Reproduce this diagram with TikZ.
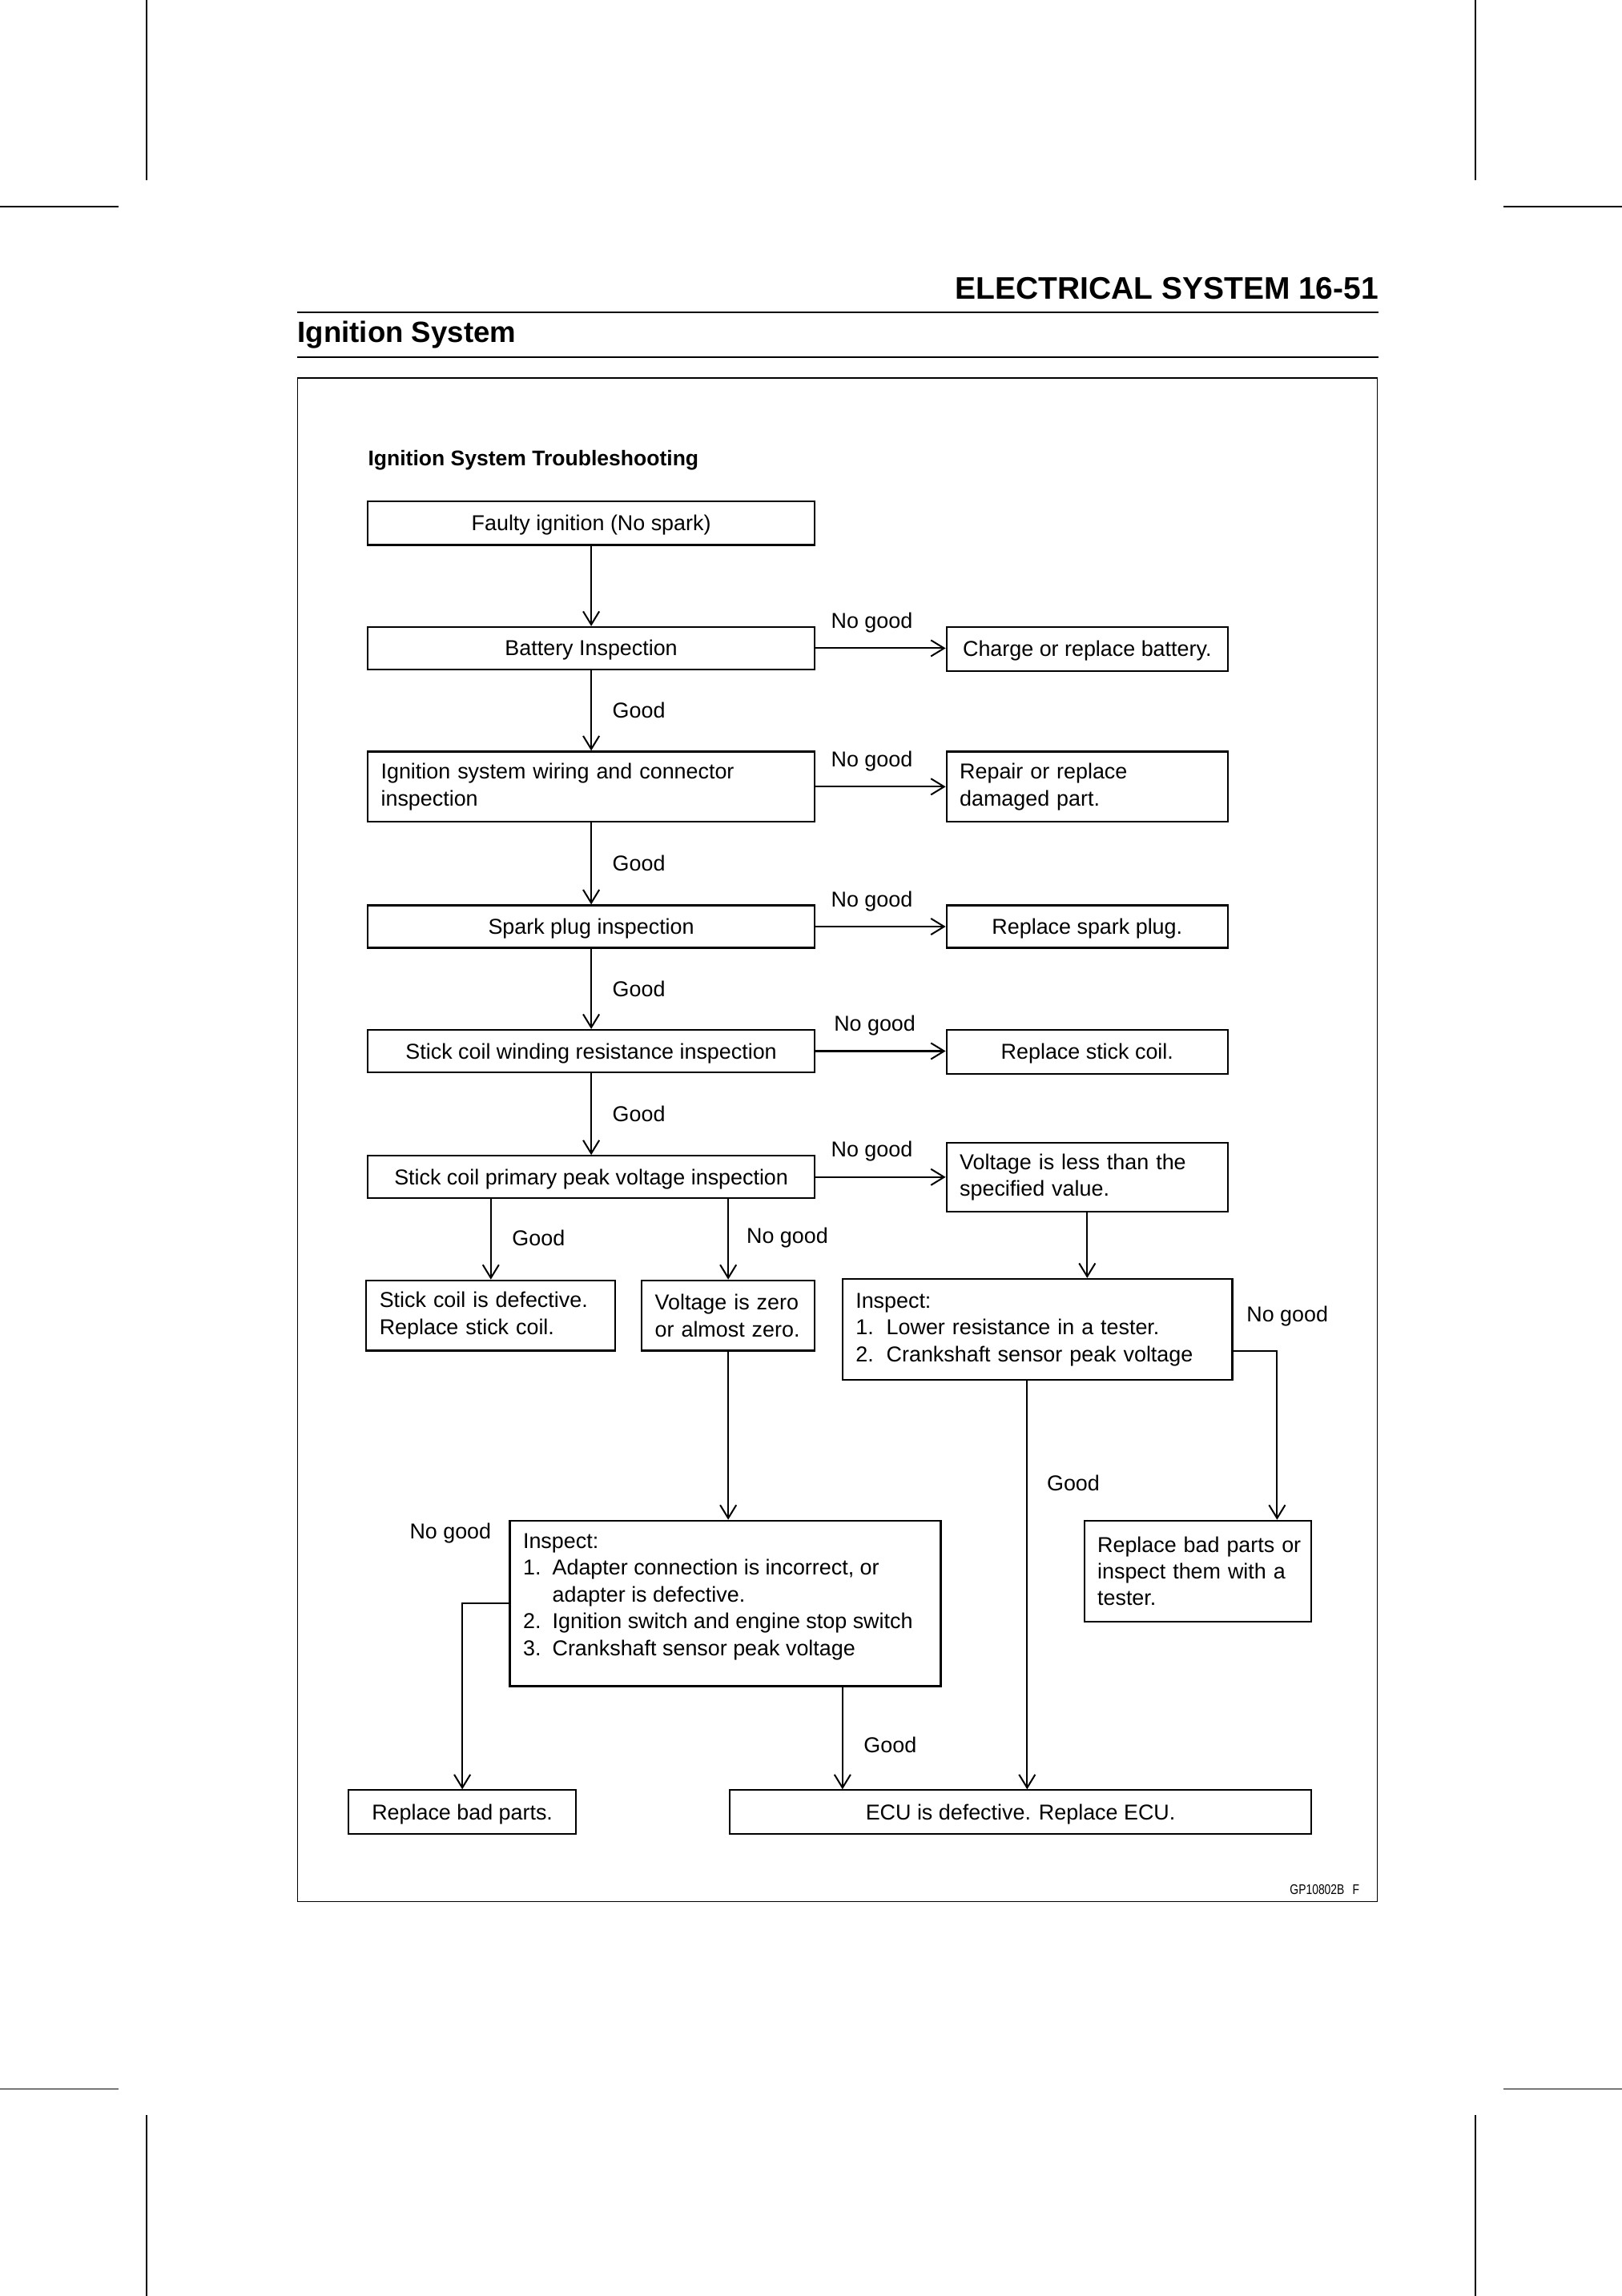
\documentclass[tikz,border=0pt]{standalone}
\usepackage{fontspec}
\usepackage{graphicx}
\setmainfont{Liberation Sans}
\usetikzlibrary{arrows.meta}

\begin{document}
\begin{tikzpicture}[x=1pt,y=-1pt,
        box/.style={draw, line width=1.2pt, inner sep=0pt, font=\fontsize{14.7}{18.3}\selectfont},
        cbox/.style={box, text height=13.4pt, text depth=3pt},
        lbox/.style={box, align=left, inner xsep=9pt},
        lbl/.style={inner sep=0pt, font=\fontsize{14.7}{18.3}\selectfont},
        flow/.style={line width=1.1pt, -{Straight Barb[length=9pt,width=11pt]}},
        crop/.style={line width=0.7pt}]
        \useasboundingbox (0,0) rectangle (1107,1567.3);
        \fill[white] (0,0) rectangle (1107,1567.3);

        \draw[crop] (100,0) -- (100,123);
        \draw[crop] (1007,0) -- (1007,123);
        \draw[crop] (0,141) -- (81,141);
        \draw[crop] (1026,141) -- (1107,141);
        \draw[crop] (0,1426) -- (81,1426);
        \draw[crop] (1026,1426) -- (1107,1426);
        \draw[crop] (100,1444) -- (100,1567.3);
        \draw[crop] (1007,1444) -- (1007,1567.3);

        \node[anchor=base east, inner sep=0pt, font=\bfseries\fontsize{21.3}{25}\selectfont] (head) at (941,204) {ELECTRICAL SYSTEM 16-51};
        \draw[line width=1pt] (203,213) -- (941,213);
        \node[anchor=base west, inner sep=0pt, font=\bfseries\fontsize{20}{24}\selectfont] (sect) at (203,233.5) {Ignition System};
        \draw[line width=1.2pt] (203,244) -- (941,244);
        \draw[line width=0.9pt] (203,258) rectangle (940,1298);
        \node[anchor=base west, inner sep=0pt, font=\bfseries\fontsize{14.5}{18}\selectfont] (title) at (251,318) {Ignition System Troubleshooting};

        \node[cbox, minimum width=305pt, minimum height=30pt] (faulty) at (403.5,357) {Faulty ignition (No spark)};
        \node[cbox, minimum width=305pt, minimum height=29pt] (batt) at (403.5,442.5) {Battery Inspection};
        \node[cbox, minimum width=192pt, minimum height=30pt] (charge) at (742,443) {Charge or replace battery.};
        \node[lbox, text width=287pt, minimum height=48pt] (wiring) at (403.5,537) {Ignition system wiring and connector\\inspection};
        \node[lbox, text width=174pt, minimum height=48pt] (repair) at (742,537) {Repair or replace\\damaged part.};
        \node[cbox, minimum width=305pt, minimum height=29pt] (spark) at (403.5,632.5) {Spark plug inspection};
        \node[cbox, minimum width=192pt, minimum height=29pt] (plug) at (742,632.5) {Replace spark plug.};
        \node[cbox, minimum width=305pt, minimum height=29pt] (wind) at (403.5,717.5) {Stick coil winding resistance inspection};
        \node[cbox, minimum width=192pt, minimum height=30pt] (rcoil) at (742,718) {Replace stick coil.};
        \node[cbox, minimum width=305pt, minimum height=29pt] (prim) at (403.5,803.5) {Stick coil primary peak voltage inspection};
        \node[lbox, text width=174pt, minimum height=47pt] (vless) at (742,803.5) {Voltage is less than the\\specified value.};
        \node[lbox, text width=152pt, minimum height=48pt] (sdef) at (335,898) {Stick coil is defective.\\Replace stick coil.};
        \node[lbox, text width=100pt, minimum height=48pt] (vzero) at (497,898) {\mbox{Voltage is zero}\\\mbox{or almost zero.}};
        \node[lbox, text width=248pt, minimum height=69pt] (insR) at (708,907.5) {Inspect:\\\makebox[21pt][l]{1.}Lower resistance in a tester.\\\makebox[21pt][l]{2.}Crankshaft sensor peak voltage};
        \node[lbox, text width=137pt, minimum height=69pt] (rpi) at (817.5,1072.5) {\mbox{Replace bad parts or}\\\mbox{inspect them with a}\\tester.};
        \node[box, inner xsep=9pt, inner ysep=6pt] (insL) at (495,1094.5) {\parbox[c][101pt][t]{276pt}{\strut Inspect:\\
                \makebox[20pt][l]{1.}Adapter connection is incorrect, or\\
                \hspace*{20pt}adapter is defective.\\
                \makebox[20pt][l]{2.}Ignition switch and engine stop switch\\
                \makebox[20pt][l]{3.}Crankshaft sensor peak voltage}};
        \node[cbox, minimum width=155pt, minimum height=30pt] (rbp) at (315.5,1237) {Replace bad parts.};
        \node[cbox, minimum width=397pt, minimum height=30pt] (ecu) at (696.5,1237) {ECU is defective. Replace ECU.};
        \node[anchor=base east, inner sep=0pt, font=\fontsize{9.5}{11}\selectfont] (code) at (928,1293) {\scalebox{0.8}[1]{GP10802B\hspace{7pt}F}};

        \draw[flow] (faulty) -- (batt);
        \draw[flow] (batt) -- node[lbl, right=14pt] (g1) {Good} (wiring);
        \draw[flow] (wiring) -- node[lbl, right=14pt] (g2) {Good} (spark);
        \draw[flow] (spark) -- node[lbl, right=14pt] (g3) {Good} (wind);
        \draw[flow] (wind) -- node[lbl, right=14pt] (g4) {Good} (prim);

        \draw[flow] (batt.east) -- node[lbl, above=10pt, xshift=-6pt] (n1) {No good} (batt.east -| charge.west);
        \draw[flow] (wiring.east) -- node[lbl, above=10pt, xshift=-6pt] (n2) {No good} (wiring.east -| repair.west);
        \draw[flow] (spark.east) -- node[lbl, above=10pt, xshift=-6pt] (n3) {No good} (spark.east -| plug.west);
        \draw[flow] (wind.east) -- node[lbl, above=10pt, xshift=-4pt] (n4) {No good} (wind.east -| rcoil.west);
        \draw[flow] (prim.east) -- node[lbl, above=10pt, xshift=-6pt] (n5) {No good} (prim.east -| vless.west);

        \draw[flow] (prim.south -| sdef.north) -- node[lbl, right=14pt, yshift=1pt] (g5) {Good} (sdef.north);
        \draw[flow] (prim.south -| vzero.north) -- node[lbl, right=12pt, yshift=1pt] (n6) {No good} (vzero.north);
        \draw[flow] (vless.south) -- (vless.south |- insR.north);

        \draw[flow] ([yshift=-14.5pt]insR.east) -| ([xshift=-24pt]rpi.north east);
        \node[lbl, anchor=west] (n7) at ([xshift=9pt, yshift=9pt]insR.east) {No good};
        \coordinate (g8s) at ([xshift=-7pt]insR.south);
        \draw[flow] (g8s) -- node[lbl, right=13pt, pos=0.25] (g8) {Good} (g8s |- ecu.north);

        \draw[flow] (vzero.south) -- (vzero.south |- insL.north);
        \draw[flow] (insL.west) -| (rbp.north);
        \node[lbl, anchor=east] (n9) at ([xshift=-12pt, yshift=-9pt]insL.north west) {No good};
        \coordinate (g9s) at ([xshift=80pt]insL.south);
        \draw[flow] (g9s) -- node[lbl, right=14pt, pos=0.57] (g9) {Good} (g9s |- ecu.north);
\end{tikzpicture}
\end{document}
